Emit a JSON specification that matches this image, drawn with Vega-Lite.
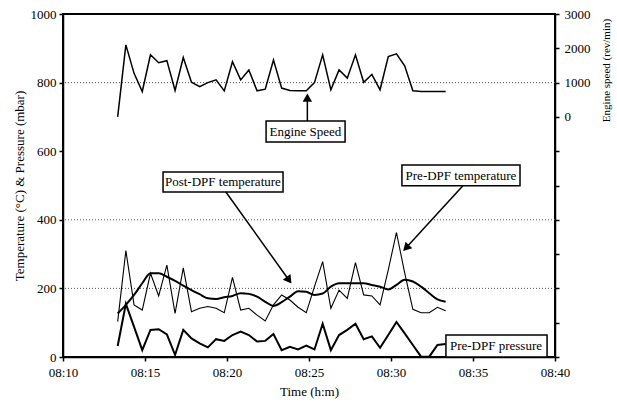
{
  "$schema": "https://vega.github.io/schema/vega-lite/v6.json",
  "width": 492,
  "height": 343,
  "autosize": {"type": "none"},
  "padding": {"left": 63, "top": 14, "right": 62, "bottom": 49},
  "background": "white",
  "config": {
    "view": {"stroke": "black", "strokeWidth": 2},
    "axis": {
      "labelFont": "Liberation Serif",
      "titleFont": "Liberation Serif",
      "labelFontSize": 13,
      "titleFontSize": 13,
      "titleFontWeight": "normal",
      "labelColor": "black",
      "titleColor": "black",
      "domainColor": "black",
      "domainWidth": 1.5,
      "tickColor": "black",
      "tickWidth": 1.5,
      "tickSize": 4,
      "grid": false
    }
  },
  "datasets": {
    "readings": [
      {"t": "2000-01-01T08:13:20", "speed": 0, "pre_temp": 103, "post_temp": 127, "pre_pres": 32},
      {"t": "2000-01-01T08:13:50", "speed": 2100, "pre_temp": 310, "post_temp": 152, "pre_pres": 155},
      {"t": "2000-01-01T08:14:20", "speed": 1270, "pre_temp": 152, "post_temp": 181, "pre_pres": 88},
      {"t": "2000-01-01T08:14:50", "speed": 740, "pre_temp": 137, "post_temp": 215, "pre_pres": 20},
      {"t": "2000-01-01T08:15:20", "speed": 1810, "pre_temp": 244, "post_temp": 244, "pre_pres": 79},
      {"t": "2000-01-01T08:15:50", "speed": 1580, "pre_temp": 178, "post_temp": 244, "pre_pres": 81},
      {"t": "2000-01-01T08:16:20", "speed": 1640, "pre_temp": 268, "post_temp": 234, "pre_pres": 66},
      {"t": "2000-01-01T08:16:50", "speed": 770, "pre_temp": 127, "post_temp": 222, "pre_pres": 6},
      {"t": "2000-01-01T08:17:20", "speed": 1730, "pre_temp": 260, "post_temp": 208, "pre_pres": 79},
      {"t": "2000-01-01T08:17:50", "speed": 1010, "pre_temp": 132, "post_temp": 195, "pre_pres": 54},
      {"t": "2000-01-01T08:18:20", "speed": 880, "pre_temp": 142, "post_temp": 183, "pre_pres": 40},
      {"t": "2000-01-01T08:18:50", "speed": 1000, "pre_temp": 147, "post_temp": 171, "pre_pres": 28},
      {"t": "2000-01-01T08:19:20", "speed": 1080, "pre_temp": 142, "post_temp": 169, "pre_pres": 52},
      {"t": "2000-01-01T08:19:50", "speed": 760, "pre_temp": 129, "post_temp": 174, "pre_pres": 47},
      {"t": "2000-01-01T08:20:20", "speed": 1610, "pre_temp": 232, "post_temp": 178, "pre_pres": 64},
      {"t": "2000-01-01T08:20:50", "speed": 1080, "pre_temp": 137, "post_temp": 186, "pre_pres": 74},
      {"t": "2000-01-01T08:21:20", "speed": 1370, "pre_temp": 142, "post_temp": 184, "pre_pres": 64},
      {"t": "2000-01-01T08:21:50", "speed": 760, "pre_temp": 122, "post_temp": 176, "pre_pres": 45},
      {"t": "2000-01-01T08:22:20", "speed": 810, "pre_temp": 105, "post_temp": 161, "pre_pres": 47},
      {"t": "2000-01-01T08:22:50", "speed": 1660, "pre_temp": 152, "post_temp": 149, "pre_pres": 67},
      {"t": "2000-01-01T08:23:20", "speed": 840, "pre_temp": 181, "post_temp": 160, "pre_pres": 20},
      {"t": "2000-01-01T08:23:50", "speed": 770, "pre_temp": 166, "post_temp": 176, "pre_pres": 30},
      {"t": "2000-01-01T08:24:20", "speed": 760, "pre_temp": 145, "post_temp": 192, "pre_pres": 22},
      {"t": "2000-01-01T08:24:50", "speed": 760, "pre_temp": 129, "post_temp": 190, "pre_pres": 33},
      {"t": "2000-01-01T08:25:20", "speed": 1000, "pre_temp": 205, "post_temp": 181, "pre_pres": 22},
      {"t": "2000-01-01T08:25:50", "speed": 1810, "pre_temp": 278, "post_temp": 185, "pre_pres": 97},
      {"t": "2000-01-01T08:26:20", "speed": 790, "pre_temp": 142, "post_temp": 205, "pre_pres": 20},
      {"t": "2000-01-01T08:26:50", "speed": 1370, "pre_temp": 195, "post_temp": 215, "pre_pres": 64},
      {"t": "2000-01-01T08:27:20", "speed": 1130, "pre_temp": 171, "post_temp": 215, "pre_pres": 79},
      {"t": "2000-01-01T08:27:50", "speed": 1810, "pre_temp": 275, "post_temp": 215, "pre_pres": 97},
      {"t": "2000-01-01T08:28:20", "speed": 1010, "pre_temp": 181, "post_temp": 215, "pre_pres": 52},
      {"t": "2000-01-01T08:28:50", "speed": 1240, "pre_temp": 178, "post_temp": 210, "pre_pres": 60},
      {"t": "2000-01-01T08:29:20", "speed": 790, "pre_temp": 152, "post_temp": 205, "pre_pres": 27},
      {"t": "2000-01-01T08:29:50", "speed": 1760, "pre_temp": 254, "post_temp": 197, "pre_pres": 64},
      {"t": "2000-01-01T08:30:20", "speed": 1840, "pre_temp": 363, "post_temp": 210, "pre_pres": 102},
      {"t": "2000-01-01T08:30:50", "speed": 1490, "pre_temp": 245, "post_temp": 225, "pre_pres": 69},
      {"t": "2000-01-01T08:31:20", "speed": 760, "pre_temp": 139, "post_temp": 220, "pre_pres": 35},
      {"t": "2000-01-01T08:31:50", "speed": 740, "pre_temp": 129, "post_temp": 205, "pre_pres": 1},
      {"t": "2000-01-01T08:32:20", "speed": 740, "pre_temp": 129, "post_temp": 186, "pre_pres": 1},
      {"t": "2000-01-01T08:32:50", "speed": 740, "pre_temp": 145, "post_temp": 168, "pre_pres": 35},
      {"t": "2000-01-01T08:33:20", "speed": 740, "pre_temp": 135, "post_temp": 161, "pre_pres": 38}
    ],
    "gridlines": [{"g": 200}, {"g": 400}, {"g": 800}],
    "boxes": [
      {"label": "Engine Speed", "x1": "2000-01-01T08:22:23", "x2": "2000-01-01T08:27:12", "y1": 627, "y2": 688, "xc": "2000-01-01T08:24:47", "yc": 657},
      {"label": "Post-DPF temperature", "x1": "2000-01-01T08:16:06", "x2": "2000-01-01T08:23:25", "y1": 481, "y2": 539, "xc": "2000-01-01T08:19:45", "yc": 510},
      {"label": "Pre-DPF temperature", "x1": "2000-01-01T08:30:40", "x2": "2000-01-01T08:37:52", "y1": 499, "y2": 560, "xc": "2000-01-01T08:34:16", "yc": 529},
      {"label": "Pre-DPF pressure", "x1": "2000-01-01T08:33:21", "x2": "2000-01-01T08:39:31", "y1": 0, "y2": 64, "xc": "2000-01-01T08:36:24", "yc": 32}
    ],
    "arrows": [
      {"name": "speed", "x1": "2000-01-01T08:24:54", "y1": 688, "x2": "2000-01-01T08:24:54", "y2": 752, "hx": "2000-01-01T08:24:54", "hy": 756},
      {"name": "post", "x1": "2000-01-01T08:19:56", "y1": 481, "x2": "2000-01-01T08:23:45", "y2": 226, "hx": "2000-01-01T08:23:47", "hy": 224},
      {"name": "pre", "x1": "2000-01-01T08:34:23", "y1": 499, "x2": "2000-01-01T08:30:57", "y2": 320, "hx": "2000-01-01T08:30:55", "hy": 318}
    ]
  },
  "layer": [
    {
      "layer": [
        {
          "data": {"name": "gridlines"},
          "mark": {"type": "rule", "color": "#555", "strokeDash": [1, 2], "strokeWidth": 1},
          "encoding": {
            "y": {
              "field": "g",
              "type": "quantitative",
              "scale": {"domain": [0, 1000], "nice": false},
              "title": "Temperature (°C) & Pressure (mbar)",
              "axis": {"values": [0, 200, 400, 600, 800, 1000], "format": "d", "labelPadding": 3, "titlePadding": 4}
            }
          }
        },
        {
          "data": {"name": "readings"},
          "mark": {"type": "line", "color": "black", "strokeWidth": 1.1},
          "encoding": {
            "x": {
              "field": "t",
              "type": "temporal",
              "title": "Time (h:m)",
              "scale": {"domain": [
                {"year": 2000, "month": 1, "date": 1, "hours": 8, "minutes": 10},
                {"year": 2000, "month": 1, "date": 1, "hours": 8, "minutes": 40}
              ]},
              "axis": {
                "format": "%H:%M",
                "values": [
                  {"year": 2000, "month": 1, "date": 1, "hours": 8, "minutes": 10},
                  {"year": 2000, "month": 1, "date": 1, "hours": 8, "minutes": 15},
                  {"year": 2000, "month": 1, "date": 1, "hours": 8, "minutes": 20},
                  {"year": 2000, "month": 1, "date": 1, "hours": 8, "minutes": 25},
                  {"year": 2000, "month": 1, "date": 1, "hours": 8, "minutes": 30},
                  {"year": 2000, "month": 1, "date": 1, "hours": 8, "minutes": 35},
                  {"year": 2000, "month": 1, "date": 1, "hours": 8, "minutes": 40}
                ],
                "labelPadding": 5,
                "titlePadding": 6,
                "labelFlush": false
              }
            },
            "y": {"field": "pre_temp", "type": "quantitative"}
          }
        },
        {
          "data": {"name": "readings"},
          "mark": {"type": "line", "color": "black", "strokeWidth": 2, "interpolate": "monotone"},
          "encoding": {
            "x": {"field": "t", "type": "temporal"},
            "y": {"field": "post_temp", "type": "quantitative"}
          }
        },
        {
          "data": {"name": "readings"},
          "mark": {"type": "line", "color": "black", "strokeWidth": 2},
          "encoding": {
            "x": {"field": "t", "type": "temporal"},
            "y": {"field": "pre_pres", "type": "quantitative"}
          }
        },
        {
          "data": {"name": "arrows"},
          "mark": {"type": "rule", "color": "black", "strokeWidth": 1.5},
          "encoding": {
            "x": {"field": "x1", "type": "temporal"},
            "x2": {"field": "x2"},
            "y": {"field": "y1", "type": "quantitative"},
            "y2": {"field": "y2"}
          }
        },
        {
          "data": {"name": "arrows"},
          "transform": [{"filter": "datum.name === 'speed'"}],
          "mark": {"type": "point", "shape": "triangle-up", "filled": true, "color": "black", "opacity": 1, "size": 90, "angle": 0},
          "encoding": {
            "x": {"field": "hx", "type": "temporal"},
            "y": {"field": "hy", "type": "quantitative"}
          }
        },
        {
          "data": {"name": "arrows"},
          "transform": [{"filter": "datum.name === 'post'"}],
          "mark": {"type": "point", "shape": "triangle-up", "filled": true, "color": "black", "opacity": 1, "size": 90, "angle": 144},
          "encoding": {
            "x": {"field": "hx", "type": "temporal"},
            "y": {"field": "hy", "type": "quantitative"}
          }
        },
        {
          "data": {"name": "arrows"},
          "transform": [{"filter": "datum.name === 'pre'"}],
          "mark": {"type": "point", "shape": "triangle-up", "filled": true, "color": "black", "opacity": 1, "size": 90, "angle": 224},
          "encoding": {
            "x": {"field": "hx", "type": "temporal"},
            "y": {"field": "hy", "type": "quantitative"}
          }
        },
        {
          "data": {"name": "boxes"},
          "mark": {"type": "rect", "fill": "white", "stroke": "black", "strokeWidth": 1.5},
          "encoding": {
            "x": {"field": "x1", "type": "temporal"},
            "x2": {"field": "x2"},
            "y": {"field": "y1", "type": "quantitative"},
            "y2": {"field": "y2"}
          }
        },
        {
          "data": {"name": "boxes"},
          "mark": {"type": "text", "font": "Liberation Serif", "fontSize": 13, "color": "black", "align": "center", "baseline": "middle"},
          "encoding": {
            "x": {"field": "xc", "type": "temporal"},
            "y": {"field": "yc", "type": "quantitative"},
            "text": {"field": "label"}
          }
        }
      ]
    },
    {
      "data": {"name": "readings"},
      "mark": {"type": "line", "color": "black", "strokeWidth": 1.5},
      "encoding": {
        "x": {"field": "t", "type": "temporal"},
        "y": {
          "field": "speed",
          "type": "quantitative",
          "scale": {"domain": [-7000, 3000], "nice": false},
          "title": "Engine speed (rev/min)",
          "axis": {
            "orient": "right",
            "values": [-7000, -6000, -5000, -4000, -3000, -2000, -1000, 0, 1000, 2000, 3000],
            "format": "d",
            "labelExpr": "datum.value < 0 ? '' : datum.label",
            "labelFontSize": 13,
            "titleFontSize": 11,
            "labelPadding": 5,
            "titleAngle": 270,
            "titleX": 51,
            "titleY": 56,
            "titleAlign": "center",
            "titleBaseline": "middle"
          }
        }
      }
    }
  ],
  "resolve": {"scale": {"y": "independent"}, "axis": {"y": "independent"}}
}
